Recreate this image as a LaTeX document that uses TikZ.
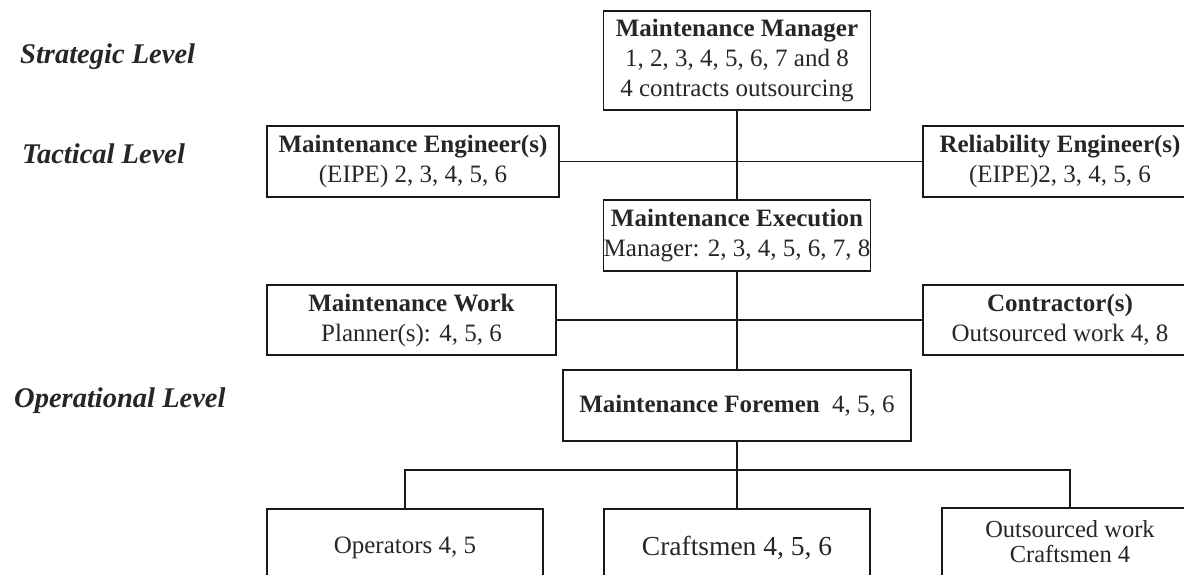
\documentclass[tikz,border=0pt]{standalone}
\usepackage{fontspec}
\setmainfont{Liberation Serif}
\begin{document}
\begin{tikzpicture}[x=1pt,y=-1pt,
  box/.style={draw=black!90, line width=1.9pt, inner sep=0pt, align=center,
    text=black!85, font=\fontsize{25}{30}\selectfont},
  conn/.style={draw=black!90, line width=1.9pt},
  lvl/.style={anchor=base west, inner sep=0pt, text=black!85,
    font=\fontsize{28.5}{32}\selectfont\bfseries\itshape}]
\useasboundingbox (0,0) rectangle (1184,574);
\clip (0,0) rectangle (1184,574);

% level labels
\node[lvl] (strat) at (20,63) {Strategic Level};
\node[lvl] (tact) at (22,163) {Tactical Level};
\node[lvl] (oper) at (14,407) {Operational Level};

% boxes
\node[box, minimum width=267pt, minimum height=99pt] (mgr) at (737,60.5)
  {\textbf{Maintenance Manager}\\1, 2, 3, 4, 5, 6, 7 and 8\\4 contracts outsourcing};
\node[box, minimum width=292pt, minimum height=71pt] (eng) at (413,161.5)
  {\textbf{Maintenance Engineer(s)}\\(EIPE) 2, 3, 4, 5, 6};
\node[box, minimum width=274pt, minimum height=71pt] (rel) at (1060,161.5)
  {\textbf{Reliability Engineer(s)}\\(EIPE)2, 3, 4, 5, 6};
\node[box, minimum width=267pt, minimum height=71pt] (exe) at (737,235.5)
  {\textbf{Maintenance Execution}\\Manager: 2, 3, 4, 5, 6, 7, 8};
\node[box, minimum width=289pt, minimum height=70pt] (work) at (411.5,320)
  {\textbf{Maintenance Work}\\Planner(s): 4, 5, 6};
\node[box, minimum width=274pt, minimum height=70pt] (con) at (1060,320)
  {\textbf{Contractor(s)}\\Outsourced work 4, 8};
\node[box, minimum width=348pt, minimum height=71pt] (fore) at (737,405.5)
  {\textbf{Maintenance Foremen}\ \ 4, 5, 6};
\node[box, minimum width=276pt, minimum height=78pt] (ops) at (405,548)
  {Operators 4, 5};
\node[box, minimum width=266pt, minimum height=78pt, font=\fontsize{27.5}{30}\selectfont] (crf) at (737,548)
  {Craftsmen 4, 5, 6};
\node[box, minimum width=256pt, minimum height=68pt, font=\fontsize{24.5}{25}\selectfont] (out) at (1070,542)
  {Outsourced work\\Craftsmen 4};

% connectors
\coordinate (bus) at (737,470);
\draw[conn] (mgr.south) -- (exe.north);
\draw[conn] (eng.east) -- (rel.west);
\draw[conn] (work.east) -- (con.west);
\draw[conn] (exe.south) -- (fore.north);
\draw[conn] (fore.south) -- (crf.north);
\draw[conn] (ops.north) |- (bus) -| (out.north);
\end{tikzpicture}
\end{document}
